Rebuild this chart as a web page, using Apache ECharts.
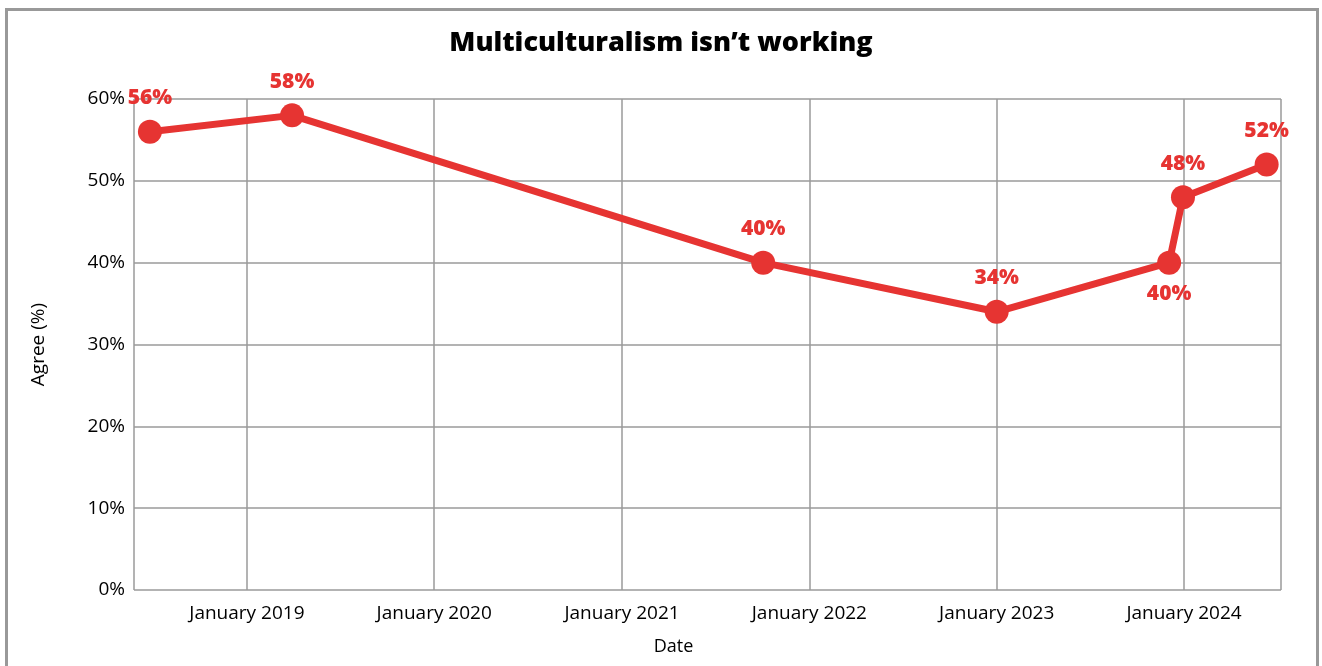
<!DOCTYPE html>
<html>
<head>
<meta charset="utf-8">
<script src="https://cdn.jsdelivr.net/npm/echarts@6/dist/echarts.min.js"></script>
<style>
  html, body { margin: 0; padding: 0; background: #fff; }
  #chart { width: 1322px; height: 666px; }
</style>
</head>
<body>
<div id="chart"></div>
<script>
// Survey dates and share agreeing (%)
const dates = ['2018-06-26', '2019-03-30', '2021-10-03', '2023-01-01', '2023-12-03', '2023-12-30', '2024-06-10'];
const agree = [56, 58, 40, 34, 40, 48, 52];
// Which data labels sit under their point
const labelBelow = [false, false, false, false, true, false, false];
const yTicks = [0, 10, 20, 30, 40, 50, 60];

const RED = '#e63432';
const FONT = '"Open Sans", Lato, sans-serif';

const seriesData = dates.map((d, i) => ({
  value: [d, agree[i]],
  label: { position: labelBelow[i] ? 'bottom' : 'top', distance: labelBelow[i] ? 9 : 11 }
}));

const chart = echarts.init(document.getElementById('chart'), null, { renderer: 'canvas' });
chart.setOption({
  animation: false,
  backgroundColor: '#fff',
  title: {
    text: 'Multiculturalism isn\u2019t working',
    left: 'center',
    top: 25,
    textStyle: { fontFamily: FONT, fontWeight: 800, fontSize: 27, color: '#000' }
  },
  graphic: [{
    type: 'rect',
    silent: true,
    shape: { x: 6.5, y: 9.5, width: 1311, height: 700 },
    style: { fill: null, stroke: '#999', lineWidth: 3 }
  }],
  grid: { left: 134, right: 41, top: 99, bottom: 76 },
  xAxis: {
    type: 'time',
    min: new Date('2018-05-26').getTime(),
    max: new Date('2024-07-08').getTime(),
    minInterval: 365 * 86400000,
    maxInterval: 366 * 86400000,
    name: 'Date',
    nameLocation: 'middle',
    nameGap: 48,
    nameTextStyle: { fontFamily: FONT, fontSize: 18, color: '#000', padding: [0, 68, 0, 0] },
    axisLine: { show: false },
    axisTick: { show: false },
    axisLabel: {
      fontFamily: FONT, fontSize: 19, color: '#000', margin: 14,
      showMinLabel: false, showMaxLabel: false,
      formatter: function (v) {
        const d = new Date(v);
        return (d.getMonth() === 0 && d.getDate() === 1) ? 'January ' + d.getFullYear() : '';
      }
    },
    splitLine: { show: true, lineStyle: { color: '#9a9a9a', width: 1.5 } }
  },
  yAxis: {
    type: 'value',
    min: yTicks[0],
    max: yTicks[yTicks.length - 1],
    interval: 10,
    name: 'Agree (%)',
    nameLocation: 'middle',
    nameGap: 86,
    nameTextStyle: { fontFamily: FONT, fontSize: 19, color: '#000' },
    axisLine: { show: false },
    axisTick: { show: false },
    axisLabel: { fontFamily: FONT, fontSize: 19, color: '#000', margin: 9, formatter: '{value}%' },
    splitLine: { show: true, lineStyle: { color: '#9a9a9a', width: 1.5 } }
  },
  series: [{
    type: 'line',
    data: seriesData,
    symbol: 'circle',
    symbolSize: 24,
    lineStyle: { color: RED, width: 7 },
    itemStyle: { color: RED },
    label: {
      show: true,
      fontFamily: FONT, fontWeight: 800, fontSize: 21, color: RED,
      formatter: p => p.value[1] + '%'
    }
  }]
});
</script>
</body>
</html>
